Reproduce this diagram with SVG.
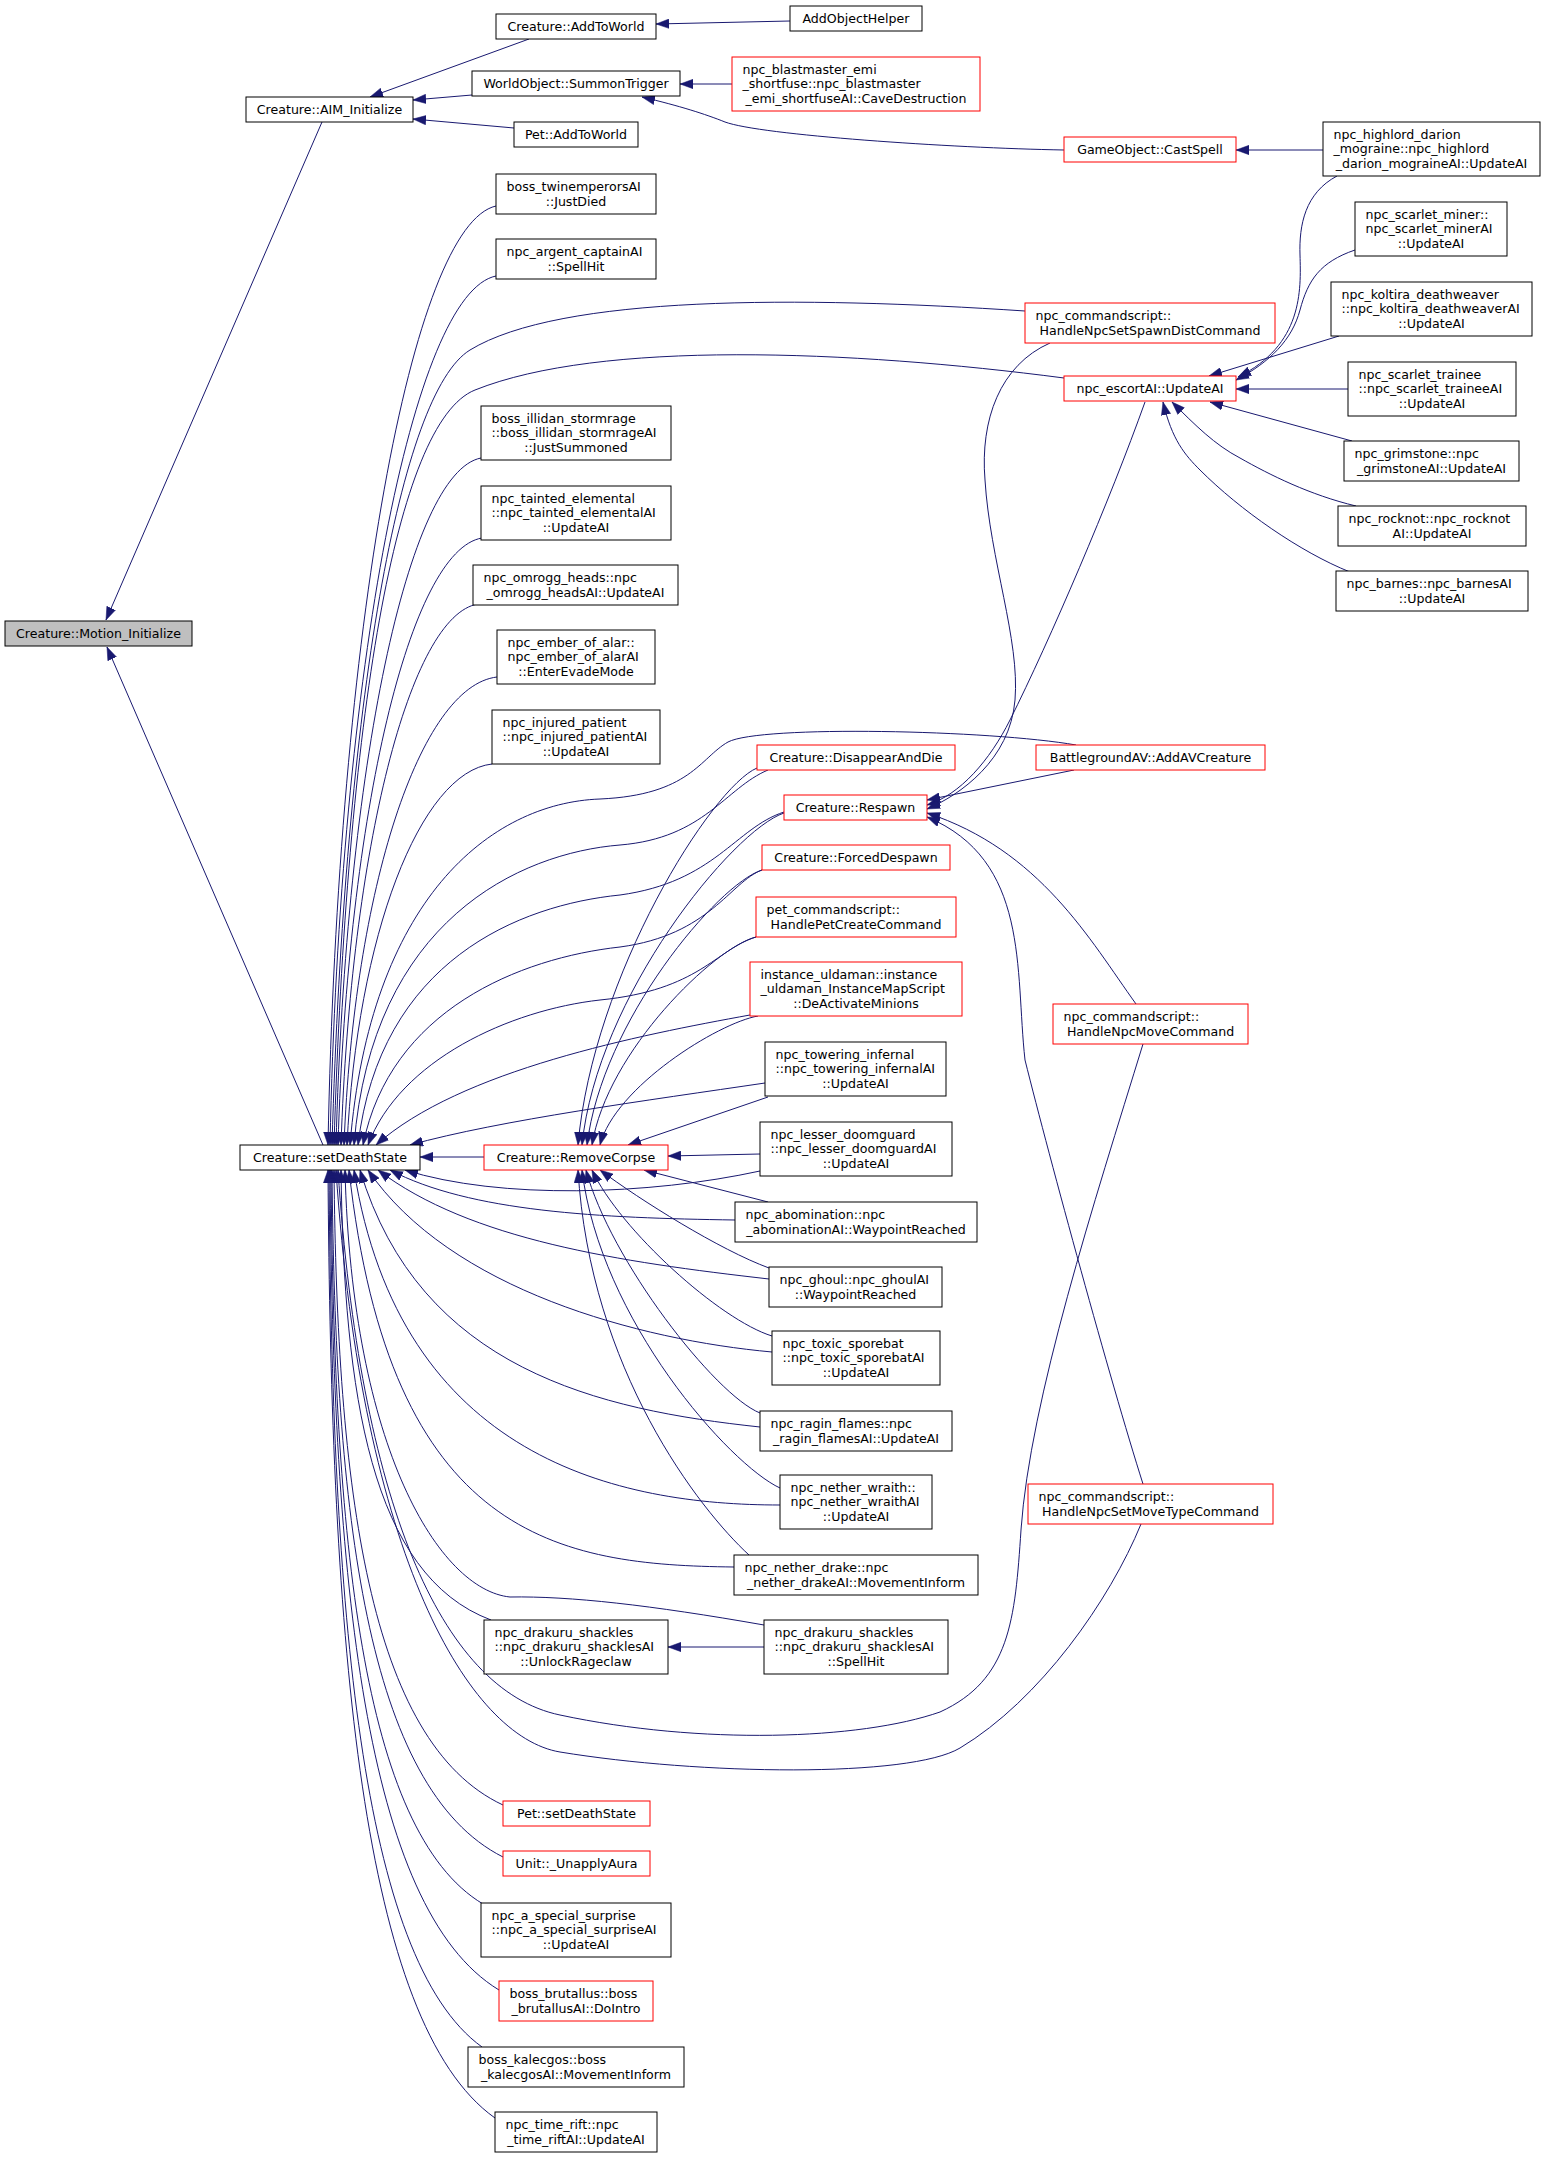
<svg xmlns="http://www.w3.org/2000/svg" width="1543" height="2158" viewBox="0 0 1543 2158">
<style>
.node rect{fill:#fff;stroke:#000;stroke-width:1}
.node.red rect{stroke:#f00}
.node.cur rect{fill:#bfbfbf}
text{font-family:"DejaVu Sans","Liberation Sans",sans-serif;font-size:12.6px;fill:#000}
.c{text-anchor:middle}
#edges path{fill:none;stroke:#191970;stroke-width:1;marker-end:url(#ah)}
</style>
<defs>
<marker id="ah" viewBox="0 0 13 10" refX="13" refY="5" markerWidth="13" markerHeight="10" markerUnits="userSpaceOnUse" orient="auto"><path d="M0,0.3 L13,5 L0,9.7 z" fill="#191970" stroke="#191970" stroke-width="0.5"/></marker>
</defs>
<rect width="1543" height="2158" fill="#fff"/>
<g id="edges">
<path d="M322,122 L106,620"/>
<path d="M323,1145 L107,647"/>
<path d="M529,39 L370,97"/>
<path d="M472,95 L413,100"/>
<path d="M514,128 L413,119"/>
<path d="M790,21 L656,24"/>
<path d="M732,84 L680,84"/>
<path d="M1064,150 C950,148 760,135 725,122 C705,114 680,106 642,97"/>
<path d="M1323,150 L1236,150"/>
<path d="M1337,176 C1305,193 1299,225 1300,255 C1301,290 1303,345 1238,377"/>
<path d="M1355,250 C1320,262 1308,280 1300,310 C1292,340 1270,362 1236,380"/>
<path d="M1339,336 L1209,376"/>
<path d="M1348,389 L1236,389"/>
<path d="M1352,441 L1210,402"/>
<path d="M1356,506 C1310,495 1270,475 1240,458 C1215,445 1195,425 1172,402"/>
<path d="M1350,572 C1300,552 1240,510 1200,470 C1185,455 1172,440 1163,402"/>
<path d="M1145,402 C1110,500 1050,640 1010,720 C990,760 960,795 927,805"/>
<path d="M1050,343 C1000,365 980,420 985,480 C990,560 1020,640 1015,700 C1010,760 960,795 927,809"/>
<path d="M1074,770 L927,800"/>
<path d="M1136,1004 C1090,940 1040,850 927,813"/>
<path d="M1143,1484 C1110,1380 1050,1160 1025,1060 C1015,970 1030,860 927,817"/>
<path d="M496,206 C412,225 338,629 328,1145"/>
<path d="M496,276 C413,293 340,667 330,1145"/>
<path d="M1025,311 C800,296 560,295 470,350 C400,393 345,700 332,1145"/>
<path d="M1064,378 C850,350 600,340 475,390 C395,422 347,720 334,1145"/>
<path d="M481,458 C408,472 346,767 336,1145"/>
<path d="M482,538 C410,550 348,811 338,1145"/>
<path d="M478,604 C410,615 351,848 341,1145"/>
<path d="M497,677 C420,686 354,888 344,1145"/>
<path d="M492,764 C420,772 357,936 347,1145"/>
<path d="M1076,745 C990,730 760,725 728,742 C700,758 690,795 600,799 C490,803 370,900 350,1145"/>
<path d="M768,770 C725,788 705,838 620,845 C520,853 372,920 354,1145"/>
<path d="M784,812 C735,828 715,882 620,895 C520,905 380,960 358,1145"/>
<path d="M762,870 C730,882 710,935 620,947 C520,958 390,1010 363,1145"/>
<path d="M756,937 C715,950 700,990 600,1000 C510,1010 400,1060 368,1145"/>
<path d="M750,1015 C640,1035 460,1070 376,1145"/>
<path d="M765,1083 C650,1100 500,1120 410,1145"/>
<path d="M484,1157 L420,1157"/>
<path d="M760,1171 C650,1195 500,1200 405,1170"/>
<path d="M735,1220 C600,1218 470,1212 390,1170"/>
<path d="M769,1279 C620,1262 470,1240 378,1170"/>
<path d="M772,1352 C640,1340 450,1290 368,1170"/>
<path d="M760,1427 C600,1410 420,1370 360,1170"/>
<path d="M780,1505 C620,1505 400,1460 354,1170"/>
<path d="M734,1567 C560,1565 390,1540 349,1170"/>
<path d="M764,1625 C650,1605 570,1596 510,1597 C440,1590 352,1450 345,1170"/>
<path d="M491,1620 C371,1575 344,1395 341,1170"/>
<path d="M1143,1044 C1095,1200 1030,1400 1021,1530 C1015,1620 1010,1680 940,1712 C860,1740 700,1745 560,1715 C440,1690 360,1500 338,1170"/>
<path d="M1141,1524 C1110,1600 1040,1700 960,1748 C910,1778 700,1775 560,1752 C470,1737 362,1560 336,1170"/>
<path d="M503,1805 C368,1742 337,1488 334,1170"/>
<path d="M503,1857 C366,1788 335,1514 332,1170"/>
<path d="M483,1904 C361,1831 334,1537 331,1170"/>
<path d="M499,1990 C364,1908 333,1580 330,1170"/>
<path d="M482,2047 C360,1959 332,1609 329,1170"/>
<path d="M495,2118 C361,2023 331,1644 328,1170"/>
<path d="M757,768 C712,787 593,975 578,1145"/>
<path d="M784,813 C733,830 597,996 582,1145"/>
<path d="M762,870 C718,884 602,1021 587,1145"/>
<path d="M756,937 C715,947 607,1051 592,1145"/>
<path d="M758,1016 C718,1023 615,1087 600,1145"/>
<path d="M768,1097 L628,1145"/>
<path d="M760,1154 L668,1156"/>
<path d="M768,1202 L644,1170"/>
<path d="M769,1268 C720,1250 640,1200 600,1170"/>
<path d="M772,1336 C720,1320 620,1230 592,1170"/>
<path d="M760,1413 C715,1395 610,1260 586,1170"/>
<path d="M780,1488 C730,1465 600,1320 582,1170"/>
<path d="M749,1555 C700,1510 590,1370 578,1170"/>
<path d="M764,1647 L668,1647"/>
</g>
<g id="motion" class="node cur"><rect x="5" y="621" width="187" height="25"/><text class="c" x="98.5" y="637.8">Creature::Motion_Initialize</text></g>
<g id="aim" class="node"><rect x="246" y="97" width="167" height="25"/><text class="c" x="329.5" y="113.8">Creature::AIM_Initialize</text></g>
<g id="setdeath" class="node"><rect x="240" y="1145" width="180" height="25"/><text class="c" x="330" y="1161.8">Creature::setDeathState</text></g>
<g id="addtoworld" class="node"><rect x="496" y="14" width="160" height="25"/><text class="c" x="576" y="30.8">Creature::AddToWorld</text></g>
<g id="addobj" class="node"><rect x="790" y="6" width="132" height="25"/><text class="c" x="856" y="22.8">AddObjectHelper</text></g>
<g id="summon" class="node"><rect x="472" y="71" width="208" height="25"/><text class="c" x="576" y="87.8">WorldObject::SummonTrigger</text></g>
<g id="blast" class="node red"><rect x="732" y="57" width="248" height="54"/><text x="742.5" y="73.8">npc_blastmaster_emi</text><text x="742.5" y="88.3">_shortfuse::npc_blastmaster</text><text class="c" x="856" y="102.8">_emi_shortfuseAI::CaveDestruction</text></g>
<g id="petadd" class="node"><rect x="514" y="122" width="124" height="25"/><text class="c" x="576" y="138.8">Pet::AddToWorld</text></g>
<g id="cast" class="node red"><rect x="1064" y="137" width="172" height="25"/><text class="c" x="1150" y="153.8">GameObject::CastSpell</text></g>
<g id="highlord" class="node"><rect x="1323" y="122" width="217" height="54"/><text x="1333.5" y="138.8">npc_highlord_darion</text><text x="1333.5" y="153.3">_mograine::npc_highlord</text><text class="c" x="1431.5" y="167.8">_darion_mograineAI::UpdateAI</text></g>
<g id="twin" class="node"><rect x="496" y="174" width="160" height="40"/><text x="506.5" y="191">boss_twinemperorsAI</text><text class="c" x="576" y="205.5">::JustDied</text></g>
<g id="argent" class="node"><rect x="496" y="239" width="160" height="40"/><text x="506.5" y="256">npc_argent_captainAI</text><text class="c" x="576" y="270.5">::SpellHit</text></g>
<g id="spawndist" class="node red"><rect x="1025" y="303" width="250" height="40"/><text x="1035.5" y="320">npc_commandscript::</text><text class="c" x="1150" y="334.5">HandleNpcSetSpawnDistCommand</text></g>
<g id="escort" class="node red"><rect x="1064" y="376" width="172" height="25"/><text class="c" x="1150" y="392.8">npc_escortAI::UpdateAI</text></g>
<g id="miner" class="node"><rect x="1355" y="202" width="152" height="54"/><text x="1365.5" y="218.8">npc_scarlet_miner::</text><text x="1365.5" y="233.3">npc_scarlet_minerAI</text><text class="c" x="1431" y="247.8">::UpdateAI</text></g>
<g id="koltira" class="node"><rect x="1331" y="282" width="201" height="54"/><text x="1341.5" y="298.8">npc_koltira_deathweaver</text><text x="1341.5" y="313.3">::npc_koltira_deathweaverAI</text><text class="c" x="1431.5" y="327.8">::UpdateAI</text></g>
<g id="trainee" class="node"><rect x="1348" y="362" width="168" height="54"/><text x="1358.5" y="378.8">npc_scarlet_trainee</text><text x="1358.5" y="393.3">::npc_scarlet_traineeAI</text><text class="c" x="1432" y="407.8">::UpdateAI</text></g>
<g id="grim" class="node"><rect x="1344" y="441" width="175" height="40"/><text x="1354.5" y="458">npc_grimstone::npc</text><text class="c" x="1431.5" y="472.5">_grimstoneAI::UpdateAI</text></g>
<g id="rock" class="node"><rect x="1338" y="506" width="188" height="40"/><text x="1348.5" y="523">npc_rocknot::npc_rocknot</text><text class="c" x="1432" y="537.5">AI::UpdateAI</text></g>
<g id="barnes" class="node"><rect x="1336" y="571" width="192" height="40"/><text x="1346.5" y="588">npc_barnes::npc_barnesAI</text><text class="c" x="1432" y="602.5">::UpdateAI</text></g>
<g id="illidan" class="node"><rect x="481" y="406" width="190" height="54"/><text x="491.5" y="422.8">boss_illidan_stormrage</text><text x="491.5" y="437.3">::boss_illidan_stormrageAI</text><text class="c" x="576" y="451.8">::JustSummoned</text></g>
<g id="tainted" class="node"><rect x="481" y="486" width="190" height="54"/><text x="491.5" y="502.8">npc_tainted_elemental</text><text x="491.5" y="517.3">::npc_tainted_elementalAI</text><text class="c" x="576" y="531.8">::UpdateAI</text></g>
<g id="omrogg" class="node"><rect x="473" y="565" width="205" height="40"/><text x="483.5" y="582">npc_omrogg_heads::npc</text><text class="c" x="575.5" y="596.5">_omrogg_headsAI::UpdateAI</text></g>
<g id="ember" class="node"><rect x="497" y="630" width="158" height="54"/><text x="507.5" y="646.8">npc_ember_of_alar::</text><text x="507.5" y="661.3">npc_ember_of_alarAI</text><text class="c" x="576" y="675.8">::EnterEvadeMode</text></g>
<g id="injured" class="node"><rect x="492" y="710" width="168" height="54"/><text x="502.5" y="726.8">npc_injured_patient</text><text x="502.5" y="741.3">::npc_injured_patientAI</text><text class="c" x="576" y="755.8">::UpdateAI</text></g>
<g id="disappear" class="node red"><rect x="757" y="745" width="198" height="25"/><text class="c" x="856" y="761.8">Creature::DisappearAndDie</text></g>
<g id="avcreature" class="node red"><rect x="1036" y="745" width="229" height="25"/><text class="c" x="1150.5" y="761.8">BattlegroundAV::AddAVCreature</text></g>
<g id="respawn" class="node red"><rect x="784" y="795" width="143" height="25"/><text class="c" x="855.5" y="811.8">Creature::Respawn</text></g>
<g id="forced" class="node red"><rect x="762" y="845" width="188" height="25"/><text class="c" x="856" y="861.8">Creature::ForcedDespawn</text></g>
<g id="petcreate" class="node red"><rect x="756" y="897" width="200" height="40"/><text x="766.5" y="914">pet_commandscript::</text><text class="c" x="856" y="928.5">HandlePetCreateCommand</text></g>
<g id="uldaman" class="node red"><rect x="750" y="962" width="212" height="54"/><text x="760.5" y="978.8">instance_uldaman::instance</text><text x="760.5" y="993.3">_uldaman_InstanceMapScript</text><text class="c" x="856" y="1007.8">::DeActivateMinions</text></g>
<g id="movecmd" class="node red"><rect x="1053" y="1004" width="195" height="40"/><text x="1063.5" y="1021">npc_commandscript::</text><text class="c" x="1150.5" y="1035.5">HandleNpcMoveCommand</text></g>
<g id="towering" class="node"><rect x="765" y="1042" width="181" height="54"/><text x="775.5" y="1058.8">npc_towering_infernal</text><text x="775.5" y="1073.3">::npc_towering_infernalAI</text><text class="c" x="855.5" y="1087.8">::UpdateAI</text></g>
<g id="removecorpse" class="node red"><rect x="484" y="1145" width="184" height="25"/><text class="c" x="576" y="1161.8">Creature::RemoveCorpse</text></g>
<g id="doomguard" class="node"><rect x="760" y="1122" width="192" height="54"/><text x="770.5" y="1138.8">npc_lesser_doomguard</text><text x="770.5" y="1153.3">::npc_lesser_doomguardAI</text><text class="c" x="856" y="1167.8">::UpdateAI</text></g>
<g id="abom" class="node"><rect x="735" y="1202" width="242" height="40"/><text x="745.5" y="1219">npc_abomination::npc</text><text class="c" x="856" y="1233.5">_abominationAI::WaypointReached</text></g>
<g id="ghoul" class="node"><rect x="769" y="1267" width="173" height="40"/><text x="779.5" y="1284">npc_ghoul::npc_ghoulAI</text><text class="c" x="855.5" y="1298.5">::WaypointReached</text></g>
<g id="sporebat" class="node"><rect x="772" y="1331" width="168" height="54"/><text x="782.5" y="1347.8">npc_toxic_sporebat</text><text x="782.5" y="1362.3">::npc_toxic_sporebatAI</text><text class="c" x="856" y="1376.8">::UpdateAI</text></g>
<g id="ragin" class="node"><rect x="760" y="1411" width="192" height="40"/><text x="770.5" y="1428">npc_ragin_flames::npc</text><text class="c" x="856" y="1442.5">_ragin_flamesAI::UpdateAI</text></g>
<g id="wraith" class="node"><rect x="780" y="1475" width="152" height="54"/><text x="790.5" y="1491.8">npc_nether_wraith::</text><text x="790.5" y="1506.3">npc_nether_wraithAI</text><text class="c" x="856" y="1520.8">::UpdateAI</text></g>
<g id="settype" class="node red"><rect x="1028" y="1484" width="245" height="40"/><text x="1038.5" y="1501">npc_commandscript::</text><text class="c" x="1150.5" y="1515.5">HandleNpcSetMoveTypeCommand</text></g>
<g id="drake" class="node"><rect x="734" y="1555" width="244" height="40"/><text x="744.5" y="1572">npc_nether_drake::npc</text><text class="c" x="856" y="1586.5">_nether_drakeAI::MovementInform</text></g>
<g id="unlock" class="node"><rect x="484" y="1620" width="184" height="54"/><text x="494.5" y="1636.8">npc_drakuru_shackles</text><text x="494.5" y="1651.3">::npc_drakuru_shacklesAI</text><text class="c" x="576" y="1665.8">::UnlockRageclaw</text></g>
<g id="spellhit" class="node"><rect x="764" y="1620" width="184" height="54"/><text x="774.5" y="1636.8">npc_drakuru_shackles</text><text x="774.5" y="1651.3">::npc_drakuru_shacklesAI</text><text class="c" x="856" y="1665.8">::SpellHit</text></g>
<g id="petdeath" class="node red"><rect x="503" y="1801" width="147" height="25"/><text class="c" x="576.5" y="1817.8">Pet::setDeathState</text></g>
<g id="unapply" class="node red"><rect x="503" y="1851" width="147" height="25"/><text class="c" x="576.5" y="1867.8">Unit::_UnapplyAura</text></g>
<g id="surprise" class="node"><rect x="481" y="1903" width="190" height="54"/><text x="491.5" y="1919.8">npc_a_special_surprise</text><text x="491.5" y="1934.3">::npc_a_special_surpriseAI</text><text class="c" x="576" y="1948.8">::UpdateAI</text></g>
<g id="brutallus" class="node red"><rect x="499" y="1981" width="154" height="40"/><text x="509.5" y="1998">boss_brutallus::boss</text><text class="c" x="576" y="2012.5">_brutallusAI::DoIntro</text></g>
<g id="kalecgos" class="node"><rect x="468" y="2047" width="216" height="40"/><text x="478.5" y="2064">boss_kalecgos::boss</text><text class="c" x="576" y="2078.5">_kalecgosAI::MovementInform</text></g>
<g id="timerift" class="node"><rect x="495" y="2112" width="162" height="40"/><text x="505.5" y="2129">npc_time_rift::npc</text><text class="c" x="576" y="2143.5">_time_riftAI::UpdateAI</text></g>
</svg>
